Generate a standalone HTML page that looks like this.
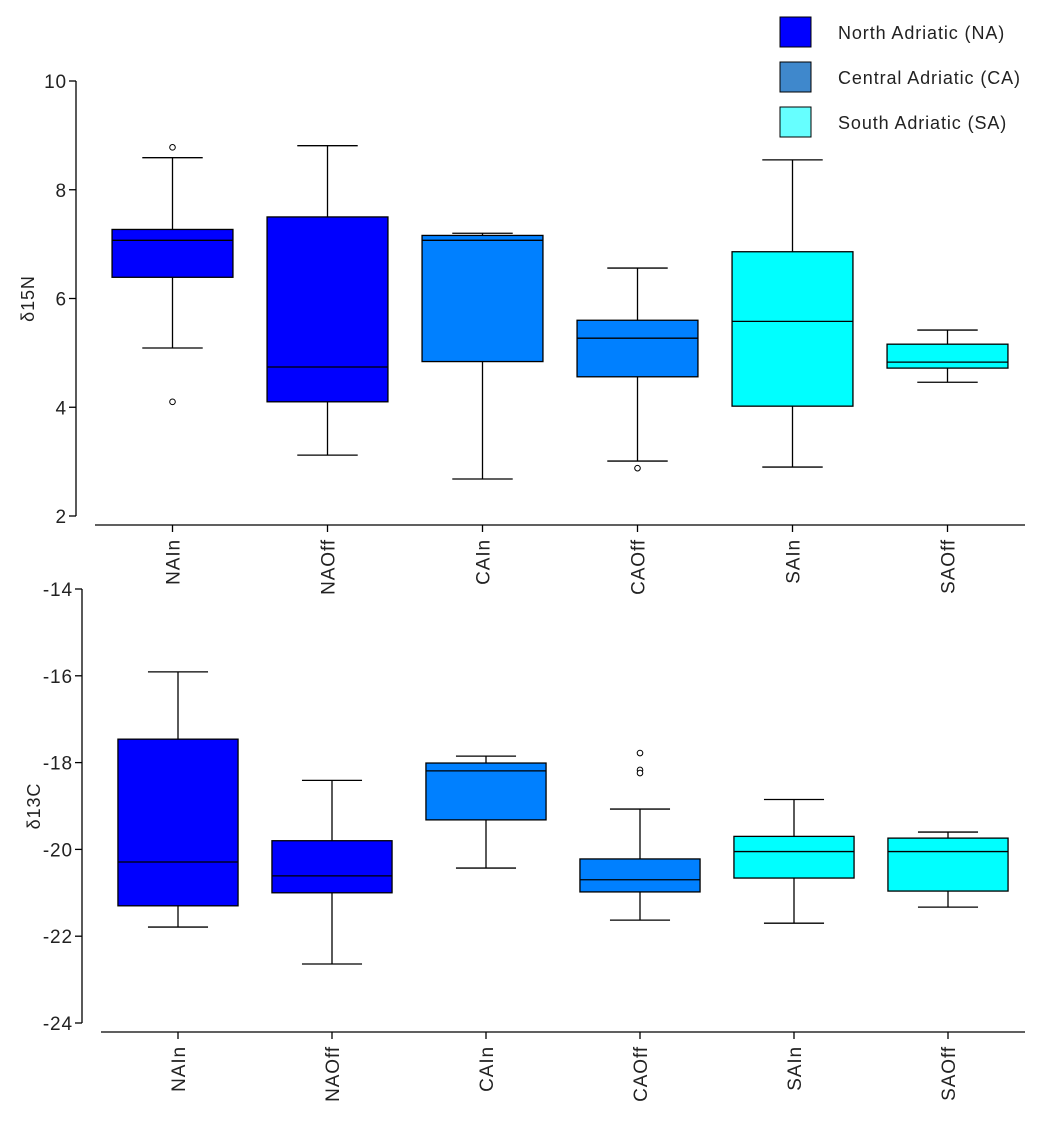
<!DOCTYPE html>
<html><head><meta charset="utf-8"><style>
body{margin:0;background:#fff;width:1056px;height:1116px;overflow:hidden}
svg text{font-family:"Liberation Sans",Arial,sans-serif;fill:#222;letter-spacing:0.9px}
</style></head><body>
<svg id="chart" width="1056" height="1116"></svg>
<script>
const categories=["NAIn","NAOff","CAIn","CAOff","SAIn","SAOff"];
const regionOf=["NA","NA","CA","CA","SA","SA"];
const legendLabels=["North Adriatic (NA)","Central Adriatic (CA)","South Adriatic (SA)"];
// d15N: [lowerWhisker, Q1, median, Q3, upperWhisker]
const n15Stats=[[5.09,6.39,7.07,7.27,8.59],[3.12,4.10,4.74,7.50,8.81],[2.68,4.84,7.07,7.16,7.20],[3.01,4.56,5.27,5.60,6.56],[2.90,4.02,5.58,6.86,8.55],[4.46,4.72,4.83,5.16,5.42]];
const n15Outliers=[[8.78,4.10],[],[],[2.88],[],[]];
const n15Ticks=[2,4,6,8,10];
const c13Stats=[[-21.79,-21.30,-20.29,-17.46,-15.91],[-22.64,-21.00,-20.61,-19.80,-18.41],[-20.43,-19.32,-18.19,-18.01,-17.85],[-21.63,-20.98,-20.70,-20.22,-19.07],[-21.70,-20.66,-20.05,-19.70,-18.85],[-21.33,-20.96,-20.05,-19.74,-19.60]];
const c13Outliers=[[],[],[],[-17.78,-18.17,-18.24],[],[]];
const c13Ticks=[-24,-22,-20,-18,-16,-14];

const NS="http://www.w3.org/2000/svg";
const svg=document.getElementById('chart');
const fills={NA:"#0000ff",CA:"#0080ff",SA:"#00ffff"};
const legFills=["#0000ff","#3f88cc","#66ffff"];
function mk(tag,attrs,parent){const e=document.createElementNS(NS,tag);for(const k in attrs)e.setAttribute(k,attrs[k]);(parent||svg).appendChild(e);return e;}

function panel(cfg){
  const g=mk('g',{});
  
  
  const y=v=>cfg.yTop+(cfg.yMax-v)/(cfg.yMax-cfg.yMin)*(cfg.yBot-cfg.yTop);
  const step=(cfg.xR-cfg.xL)/categories.length;
  const x=i=>cfg.xL+step*(i+0.5);
  const bw=step*0.78, cw=bw/2;
  const ya=mk('line',{x1:cfg.ax,x2:cfg.ax,y1:y(cfg.yMax),y2:y(cfg.yMin),stroke:"#000","stroke-width":1.3},g);
  
  cfg.ticks.forEach(t=>{
    mk('line',{x1:cfg.ax-7,x2:cfg.ax,y1:y(t),y2:y(t),stroke:"#000","stroke-width":1.3},g);
    const tx=mk('text',{x:cfg.ax-9,y:y(t)+7,"text-anchor":"end","font-size":19},g);
    tx.textContent=t;
    
  });
  const yt=mk('text',{transform:`translate(${cfg.ax-42},${(cfg.yTop+cfg.yBot)/2}) rotate(-90)`,"text-anchor":"middle","font-size":18},g);
  yt.textContent=cfg.title;
  
  const xa=mk('line',{x1:cfg.xL,x2:cfg.xR,y1:cfg.xAxisY,y2:cfg.xAxisY,stroke:"#000","stroke-width":1.3},g);
  
  categories.forEach((c,i)=>{
    mk('line',{x1:x(i),x2:x(i),y1:cfg.xAxisY,y2:cfg.xAxisY+7,stroke:"#000","stroke-width":1.3},g);
    const tx=mk('text',{transform:`translate(${x(i)+7},${cfg.xAxisY+14}) rotate(-90)`,"text-anchor":"end","font-size":19},g);
    tx.textContent=c;
    
  });
  cfg.stats.forEach((s,i)=>{
    const bg=mk('g',{},g);
    
    
    const cx=x(i);
    mk('line',{x1:cx,x2:cx,y1:y(s[4]),y2:y(s[3]),stroke:"#000","stroke-width":1.3},bg);
    mk('line',{x1:cx,x2:cx,y1:y(s[1]),y2:y(s[0]),stroke:"#000","stroke-width":1.3},bg);
    mk('line',{x1:cx-cw/2,x2:cx+cw/2,y1:y(s[4]),y2:y(s[4]),stroke:"#000","stroke-width":1.3},bg);
    mk('line',{x1:cx-cw/2,x2:cx+cw/2,y1:y(s[0]),y2:y(s[0]),stroke:"#000","stroke-width":1.3},bg);
    mk('rect',{x:cx-bw/2,y:y(s[3]),width:bw,height:y(s[1])-y(s[3]),fill:fills[regionOf[i]],stroke:"#000","stroke-width":1.3},bg);
    mk('line',{x1:cx-bw/2,x2:cx+bw/2,y1:y(s[2]),y2:y(s[2]),stroke:"#000","stroke-width":1.3},bg);
    cfg.outliers[i].forEach(o=>{
      const c=mk('circle',{cx:cx,cy:y(o),r:2.8,fill:"#fff",stroke:"#000","stroke-width":1},bg);
      
    });
  });
}
panel({name:'d15n-panel',title:'δ15N',yMin:2,yMax:10,yTop:81,yBot:516,ax:76,xL:95,xR:1025,xAxisY:525,ticks:n15Ticks,stats:n15Stats,outliers:n15Outliers});
panel({name:'d13c-panel',title:'δ13C',yMin:-24,yMax:-14,yTop:589,yBot:1023,ax:82,xL:101,xR:1025,xAxisY:1032,ticks:c13Ticks,stats:c13Stats,outliers:c13Outliers});

const lg=mk('g',{});


legendLabels.forEach((l,i)=>{
  const eg=mk('g',{},lg);
  
  
  mk('rect',{x:780,y:17+45*i,width:31,height:30,fill:legFills[i],stroke:"#000","stroke-width":1},eg);
  const t=mk('text',{x:838,y:39+45*i,"font-size":18},eg);
  t.textContent=l;
});
</script>
</body></html>
